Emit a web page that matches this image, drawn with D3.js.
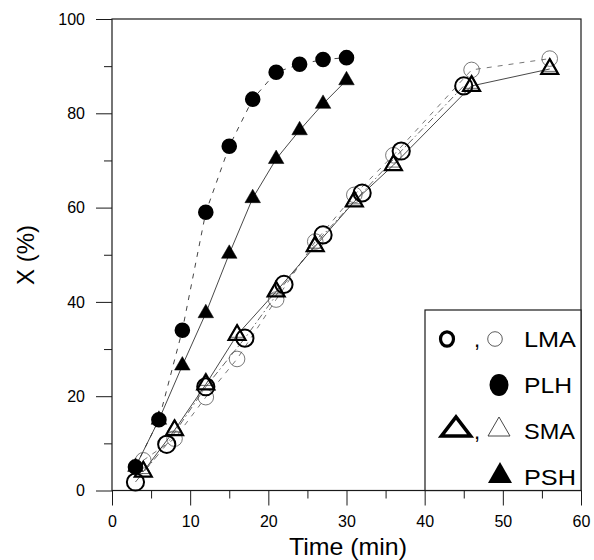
<!DOCTYPE html>
<html>
<head>
<meta charset="utf-8">
<script src="https://cdn.jsdelivr.net/npm/d3@7"></script>
<style>
  body { margin: 0; background: #fff; }
  svg { font-family: "Liberation Sans", Arial, Helvetica, sans-serif; }
</style>
</head>
<body>
<script>
// ---- data ----
var plhTime = [3, 6, 9, 12, 15, 18, 21, 24, 27, 30];
var plhX    = [5, 15, 34, 59, 73, 83, 88.7, 90.4, 91.4, 91.8];

var pshTime = [3, 6, 9, 12, 15, 18, 21, 24, 27, 30];
var pshX    = [5, 15, 26.5, 37.6, 50.2, 62, 70.3, 76.4, 82, 87];

var lmaTime = [3, 7, 12, 17, 22, 27, 32, 37, 45];          // thick circles
var lmaX    = [1.8, 9.8, 22, 32.3, 43.7, 54.2, 63.1, 72, 85.8];

var lma2Time = [4, 8, 12, 16, 21, 26, 31, 36, 46, 56];     // thin circles
var lma2X    = [6.4, 11, 19.8, 27.9, 40.5, 52.8, 62.7, 71.1, 89.2, 91.6];

var smaTime = [4, 8, 12, 16, 21, 26, 31, 36, 46, 56];      // thick triangles
var smaX    = [4, 12.8, 22.5, 33, 42.2, 51.8, 61.3, 69, 85.8, 89.4];

var sma2Time = [4, 8, 12, 16, 21, 26, 31, 36, 46, 56];     // thin triangles
var sma2X    = [4.5, 13.3, 23.2, 33.4, 42.6, 52.3, 61.7, 69.5, 86.2, 89.8];

var xTicks = [0, 10, 20, 30, 40, 50, 60];
var yTicks = [0, 20, 40, 60, 80, 100];
var legendNames = ["LMA", "PLH", "SMA", "PSH"];

function zip(t, v){ return t.map(function(d, i){ return {t: d, v: v[i]}; }); }

window.onload = function(){

    var w = 594, h = 560;

    var svg = d3.select("body")
        .append("svg")
        .attr("width", w)
        .attr("height", h);

    var x = d3.scaleLinear().domain([0, 60]).range([112, 581]);
    var y = d3.scaleLinear().domain([0, 100]).range([490.5, 19]);

    var ink = "#1a1a1a";

    // minor ticks
    svg.append("g")
        .attr("transform", "translate(0," + y(0) + ")")
        .call(d3.axisBottom(x).tickValues(d3.range(5, 60, 10)).tickSize(8).tickFormat(""))
        .call(function(g){ g.select(".domain").remove(); });
    svg.append("g")
        .attr("transform", "translate(" + x(0) + ",0)")
        .call(d3.axisLeft(y).tickValues(d3.range(10, 100, 20)).tickSize(8).tickFormat(""))
        .call(function(g){ g.select(".domain").remove(); });

    // major ticks with labels
    var xAxis = svg.append("g")
        .attr("class", "xAxis")
        .attr("transform", "translate(0," + y(0) + ")")
        .call(d3.axisBottom(x).tickValues(xTicks).tickSize(15).tickPadding(10));
    xAxis.select(".domain").remove();

    var yAxis = svg.append("g")
        .attr("class", "yAxis")
        .attr("transform", "translate(" + x(0) + ",0)")
        .call(d3.axisLeft(y).tickValues(yTicks).tickSize(16).tickPadding(11));
    yAxis.select(".domain").remove();

    svg.selectAll(".tick line").attr("stroke", ink);
    svg.selectAll(".tick text").attr("font-size", 16).attr("fill", "#000")
        .attr("font-family", "Liberation Sans, Arial, sans-serif");

    // frame
    svg.append("rect")
        .attr("x", x(0)).attr("y", y(100))
        .attr("width", x(60) - x(0)).attr("height", y(0) - y(100))
        .attr("fill", "none").attr("stroke", ink).attr("stroke-width", 1.2);

    // axis titles
    svg.append("text")
        .attr("x", 348).attr("y", 555)
        .attr("text-anchor", "middle")
        .attr("font-size", 24)
        .attr("textLength", 118)
        .attr("lengthAdjust", "spacingAndGlyphs")
        .text("Time (min)");

    svg.append("text")
        .attr("transform", "translate(34,255) rotate(-90)")
        .attr("text-anchor", "middle")
        .attr("font-size", 24)
        .text("X (%)");

    // lines
    var line = d3.line().x(function(d){ return x(d.t); }).y(function(d){ return y(d.v); });

    var series = [
        {data: zip(lma2Time, lma2X), dash: "5,6", color: "#666", width: 0.9},
        {data: zip(lmaTime, lmaX), dash: "7,3,1.5,3", color: "#555", width: 0.9},
        {data: zip(smaTime, smaX), dash: null, color: "#333", width: 0.9},
        {data: zip(plhTime, plhX), dash: "5,6", color: "#444", width: 1},
        {data: zip(pshTime, pshX), dash: null, color: "#333", width: 0.9}
    ];

    svg.selectAll(".curve")
        .data(series)
        .enter()
        .append("path")
        .attr("class", "curve")
        .attr("d", function(d){ return line(d.data); })
        .attr("fill", "none")
        .attr("stroke", function(d){ return d.color; })
        .attr("stroke-width", function(d){ return d.width; })
        .attr("stroke-dasharray", function(d){ return d.dash; });

    // markers
    var tri = function(size){ return d3.symbol().type(d3.symbolTriangle).size(size)(); };
    var circ = function(r){ return d3.symbol().type(d3.symbolCircle).size(Math.PI * r * r)(); };

    function marks(cls, data, shape, fill, stroke, sw){
        return svg.selectAll("." + cls)
            .data(data)
            .enter()
            .append("path")
            .attr("class", cls)
            .attr("transform", function(d){ return "translate(" + x(d.t) + "," + y(d.v) + ")"; })
            .attr("d", shape)
            .attr("fill", fill)
            .attr("stroke", stroke)
            .attr("stroke-width", sw);
    }

    marks("thinCircle", zip(lma2Time, lma2X), circ(7.8), "none", "#555", 0.8);
    marks("thinTri", zip(sma2Time, sma2X), tri(95), "none", "#444", 0.8);
    marks("thickTri", zip(smaTime, smaX), tri(125), "none", "#000", 2.2);
    marks("thickCircle", zip(lmaTime, lmaX), circ(8.6), "none", "#000", 2);
    marks("psh", zip(pshTime, pshX), tri(105), "#000", "#000", 0.5);
    marks("plh", zip(plhTime, plhX), circ(7.8), "#000", "none", 0);

    // legend
    var lg = svg.append("g").attr("class", "legend");
    lg.append("rect")
        .attr("x", 425).attr("y", 310)
        .attr("width", x(60) - 425).attr("height", y(0) - 310)
        .attr("fill", "#fff").attr("stroke", ink).attr("stroke-width", 1.2);

    var rowY = [347, 393, 439, 485];
    var rowLen = [52, 48, 51, 52];
    lg.selectAll(".lgText")
        .data(legendNames)
        .enter()
        .append("text")
        .attr("class", "lgText")
        .attr("x", 524)
        .attr("y", function(d, i){ return rowY[i]; })
        .attr("font-size", 22)
        .attr("textLength", function(d, i){ return rowLen[i]; })
        .attr("lengthAdjust", "spacingAndGlyphs")
        .text(function(d){ return d; });

    // LMA: thick O , thin O
    lg.append("ellipse").attr("cx", 447).attr("cy", rowY[0] - 8).attr("rx", 6.5).attr("ry", 7.2)
        .attr("fill", "none").attr("stroke", "#000").attr("stroke-width", 3.2);
    lg.append("text").attr("x", 474).attr("y", rowY[0]).attr("font-size", 22).text(",");
    lg.append("circle").attr("cx", 495).attr("cy", rowY[0] - 8).attr("r", 7.3)
        .attr("fill", "none").attr("stroke", "#333").attr("stroke-width", 0.8);

    // PLH
    lg.append("ellipse").attr("cx", 499).attr("cy", rowY[1] - 8).attr("rx", 9.5).attr("ry", 11)
        .attr("fill", "#000");

    // SMA: thick triangle , thin triangle
    function triPts(cx, base, wd, ht){
        return [[cx - wd / 2, base], [cx + wd / 2, base], [cx, base - ht]].join(" ");
    }
    lg.append("polygon").attr("points", triPts(456, rowY[2] - 3, 29, 19))
        .attr("fill", "none").attr("stroke", "#000").attr("stroke-width", 3.6);
    lg.append("text").attr("x", 474).attr("y", rowY[2]).attr("font-size", 22).text(",");
    lg.append("polygon").attr("points", triPts(499, rowY[2] - 3, 22, 19))
        .attr("fill", "none").attr("stroke", "#333").attr("stroke-width", 0.9);

    // PSH
    lg.append("polygon").attr("points", triPts(500, rowY[3] - 2, 24, 21))
        .attr("fill", "#000");
};
</script>
</body>
</html>
